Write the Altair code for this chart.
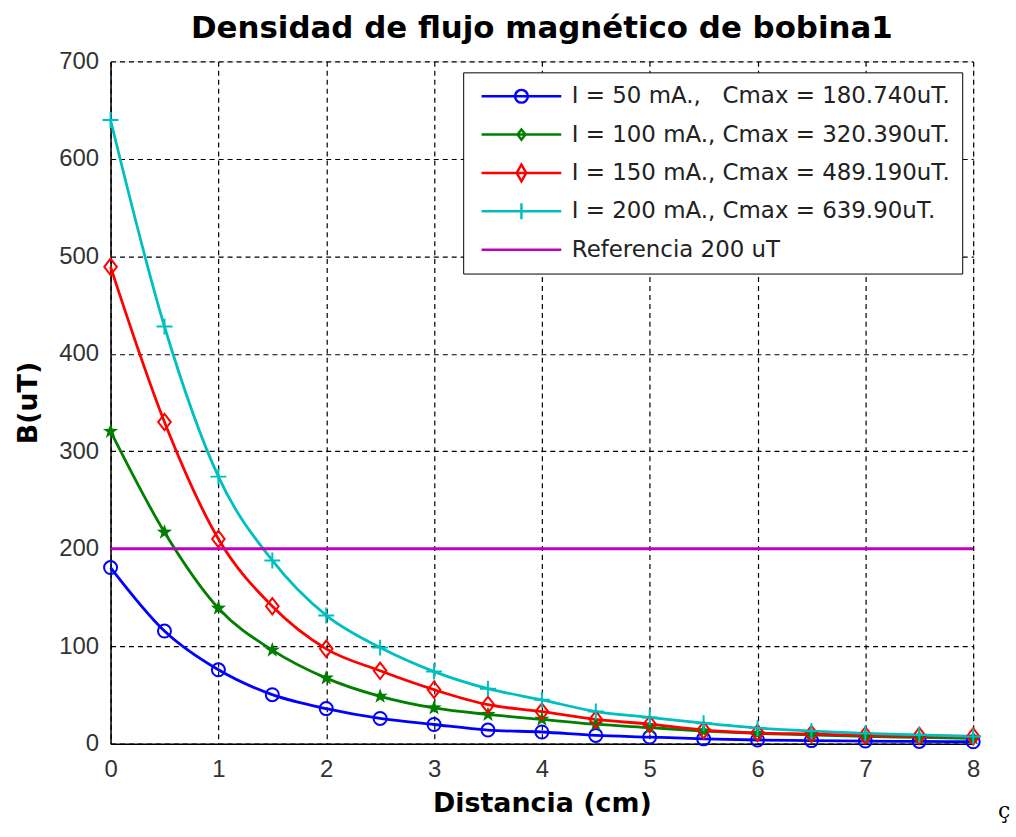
import altair as alt
import pandas as pd

# ---- data ----
distancia = [0, 0.5, 1, 1.5, 2, 2.5, 3, 3.5, 4, 4.5, 5, 5.5, 6, 6.5, 7, 7.5, 8]
b_50 = [180.74, 115.6, 75.8, 50.3, 36.0, 25.9, 19.7, 14.0, 12.0, 8.5, 6.8, 5.0, 3.8, 3.2, 2.7, 2.3, 2.0]
b_100 = [320.39, 217.0, 139.0, 96.0, 67.3, 48.6, 36.7, 30.0, 25.0, 20.0, 16.5, 13.0, 10.5, 9.0, 7.5, 6.5, 5.5]
b_150 = [489.19, 330.0, 210.0, 141.0, 97.3, 74.8, 55.4, 40.0, 33.0, 25.0, 20.0, 14.0, 11.0, 10.0, 8.5, 8.0, 7.5]
b_200 = [639.9, 428.0, 274.0, 188.0, 131.6, 98.6, 74.0, 56.5, 45.0, 33.0, 27.0, 21.0, 16.0, 13.0, 10.5, 9.0, 7.5]
referencia = 200

labels = [
    "I = 50 mA.,\u00a0\u00a0\u00a0Cmax = 180.740uT.",
    "I = 100 mA., Cmax = 320.390uT.",
    "I = 150 mA., Cmax = 489.190uT.",
    "I = 200 mA., Cmax = 639.90uT.",
    "Referencia 200 uT",
]
colors = ["#0000ff", "#007f00", "#ff0000", "#00bfbf", "#bf00bf"]

series = [b_50, b_100, b_150, b_200]
rows = []
for lab, vals in zip(labels[:4], series):
    for xv, yv in zip(distancia, vals):
        rows.append({"x": xv, "y": yv, "serie": lab})
df = pd.DataFrame(rows)
ref_df = pd.DataFrame({"y": [referencia], "serie": [labels[4]]})
leg_df = pd.concat([df, pd.DataFrame({"x": [0], "y": [referencia], "serie": [labels[4]]})])

# marker shapes (plot)
circle = "M1,0A1,1 0 1,0 -1,0A1,1 0 1,0 1,0"
star = ("M0,-1L0.24,-0.33L0.95,-0.31L0.38,0.12L0.59,0.81L0,0.4L-0.59,0.81"
        "L-0.38,0.12L-0.95,-0.31L-0.24,-0.33Z")
diamond = "M0,-1.3L1,0L0,1.3L-1,0Z"
plus = "M-1,0H1M0,-1V1"
marker_shapes = [circle, star, diamond, plus]
marker_sizes = [170, 260, 160, 256]
marker_filled = [False, True, False, False]

# legend symbols: line with marker
lg_circle = "M-1,0H1M0.16,0A0.16,0.16 0 1,0 -0.16,0A0.16,0.16 0 1,0 0.16,0"
lg_star = "M-1,0H1M0,-0.13L0.1,0L0,0.13L-0.1,0Z"
lg_diamond = "M-1,0H1M0,-0.21L0.12,0L0,0.21L-0.12,0Z"
lg_plus = "M-1,0H1M0,-0.2V0.2"
lg_line = "M-1,0H1"

xs = alt.Scale(domain=[0, 8], nice=False)
ys = alt.Scale(domain=[0, 700], nice=False)
cs = alt.Scale(domain=labels, range=colors)

x_axis = alt.Axis(title="Distancia (cm)", values=list(range(0, 9)), format="d",
                  grid=True, gridDash=[5, 4], gridColor="#000000", gridOpacity=1,
                  gridWidth=1.2, ticks=False, labelPadding=14, labelFlush=False,
                  labelFontSize=24, labelFont="Liberation Sans", labelColor="#333333",
                  titleFont="DejaVu Sans", titleFontSize=27, titleFontWeight="bold",
                  titleColor="#000000", titlePadding=9,
                  domainColor="#000000", domainWidth=1.5)
y_axis = alt.Axis(title="B(uT)", values=list(range(0, 701, 100)), format="d",
                  grid=True, gridDash=[5, 4], gridColor="#000000", gridOpacity=1,
                  gridWidth=1.2, ticks=False, labelPadding=12, labelFlush=False,
                  labelFontSize=24, labelFont="Liberation Sans", labelColor="#333333",
                  titleFont="DejaVu Sans", titleFontSize=27, titleFontWeight="bold",
                  titleColor="#000000", titlePadding=16,
                  domainColor="#000000", domainWidth=1.5)

legend = alt.Legend(orient="top-right", offset=11, title=None, symbolOpacity=1,
                    symbolSize=6400, symbolStrokeWidth=2.5, symbolOffset=5,
                    clipHeight=24, rowPadding=14.5, padding=12,
                    labelFont="DejaVu Sans", labelFontSize=23,
                    labelColor="#222222", labelOffset=9, labelLimit=600,
                    strokeColor="#000000", fillColor="#ffffff", cornerRadius=0)

line_layers = []
marker_layers = []
for i, (lab, shp, sz, fl) in enumerate(zip(labels[:4], marker_shapes, marker_sizes, marker_filled)):
    base = alt.Chart(df).transform_filter(alt.datum.serie == lab)
    enc_x = alt.X("x:Q", scale=xs, axis=x_axis) if i == 0 else alt.X("x:Q", scale=xs)
    enc_y = alt.Y("y:Q", scale=ys, axis=y_axis) if i == 0 else alt.Y("y:Q", scale=ys)
    line_layers.append(
        base.mark_line(strokeWidth=2.8, interpolate="monotone", color=colors[i])
        .encode(x=enc_x, y=enc_y)
    )
    mk = dict(shape=shp, size=sz, filled=fl, strokeWidth=2, opacity=1, color=colors[i])
    marker_layers.append(
        base.mark_point(**mk).encode(
            x=alt.X("x:Q", scale=xs),
            y=alt.Y("y:Q", scale=ys),
        )
    )

ref = alt.Chart(ref_df).mark_rule(strokeWidth=2.8, color=colors[4]).encode(
    y=alt.Y("y:Q", scale=ys),
)

legend_layer = alt.Chart(leg_df).mark_point(filled=False, opacity=0).encode(
    x=alt.X("x:Q", scale=xs),
    y=alt.Y("y:Q", scale=ys),
    color=alt.Color("serie:N", scale=cs, legend=legend),
    shape=alt.Shape("serie:N", scale=alt.Scale(domain=labels,
                                               range=[lg_circle, lg_star, lg_diamond, lg_plus, lg_line]),
                    legend=legend),
)

stray = alt.Chart(ref_df).mark_text(text="ç", font="DejaVu Serif", fontSize=22, color="#000000",
                                    align="left").encode(
    x=alt.value(891), y=alt.value(753),
)

chart = alt.layer(*line_layers, ref, *marker_layers, legend_layer, stray).properties(
    width=866, height=685,
    title=alt.Title("Densidad de flujo magnético de bobina1", font="DejaVu Sans", fontSize=31,
                    fontWeight="bold", color="#000000", offset=4),
    padding={"left": 14, "top": 12, "right": 5, "bottom": 5},
).configure_view(stroke="#000000", strokeWidth=1.5).configure(background="#ffffff")

chart.save("out.html", embed_options={"renderer": "svg", "actions": False})
